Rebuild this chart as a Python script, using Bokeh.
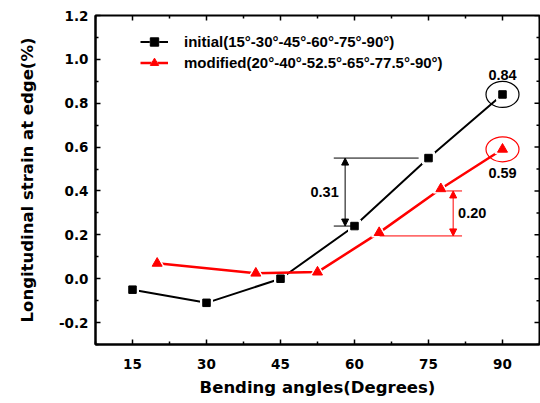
import math
from bokeh.plotting import figure
from bokeh.models import Range1d, FixedTicker, Legend, LegendItem, Arrow, NormalHead, Label
from bokeh.embed import file_html
from bokeh.resources import INLINE

# ---- data ----
angles_initial = [15, 30, 45, 60, 75, 90]
strain_initial = [-0.05, -0.11, 0.0, 0.24, 0.55, 0.84]
angles_modified = [20, 40, 52.5, 65, 77.5, 90]
strain_modified = [0.07, 0.025, 0.03, 0.21, 0.41, 0.59]

label_initial = "initial(15°-30°-45°-60°-75°-90°)"
label_modified = "modified(20°-40°-52.5°-65°-77.5°-90°)"

x_ticks = [15, 30, 45, 60, 75, 90]
x_minor = [7.5, 22.5, 37.5, 52.5, 67.5, 82.5, 97.5]
y_ticks = [-0.2, 0.0, 0.2, 0.4, 0.6, 0.8, 1.0, 1.2]
y_tick_labels = ["-0.2", "0.0", "0.2", "0.4", "0.6", "0.8", "1.0", "1.2"]
y_minor = [-0.3, -0.1, 0.1, 0.3, 0.5, 0.7, 0.9, 1.1]

X_MIN, X_MAX = 7.5, 97.5
Y_MIN, Y_MAX = -0.3, 1.2

TICK_FONT = "DejaVu Sans"
TEXT_FONT = "Liberation Sans"
RED = "#ff0000"

p = figure(width=540, height=403,
           x_range=Range1d(X_MIN, X_MAX), y_range=Range1d(Y_MIN, Y_MAX),
           output_backend="svg", toolbar_location=None,
           min_border_left=95, min_border_right=1, min_border_top=15, min_border_bottom=59)
p.xgrid.visible = False
p.ygrid.visible = False
p.outline_line_color = "black"
p.outline_line_width = 2
p.background_fill_color = "white"
p.border_fill_color = "white"

xt = FixedTicker(ticks=x_ticks, minor_ticks=x_minor)
yt = FixedTicker(ticks=y_ticks, minor_ticks=y_minor)

for ax in (p.xaxis[0], p.yaxis[0]):
    ax.axis_line_width = 2
    ax.axis_line_color = "black"
    ax.major_tick_in = 5
    ax.major_tick_out = 0
    ax.minor_tick_in = 3
    ax.minor_tick_out = 0
    ax.major_tick_line_width = 1.5
    ax.minor_tick_line_width = 1.5
    ax.major_tick_line_color = "black"
    ax.minor_tick_line_color = "black"
    ax.major_label_text_font = TICK_FONT
    ax.major_label_text_font_style = "bold"
    ax.major_label_text_font_size = "13.5px"
    ax.major_label_text_color = "black"
    ax.axis_label_text_font = TICK_FONT
    ax.axis_label_text_font_style = "bold"
    ax.axis_label_text_font_size = "16.5px"
    ax.axis_label_text_color = "black"

p.xaxis.ticker = xt
p.yaxis.ticker = yt
p.yaxis.major_label_overrides = {v: s for v, s in zip(y_ticks, y_tick_labels)}
p.xaxis.axis_label = "Bending angles(Degrees)"
p.yaxis.axis_label = "Longitudinal strain at edge(%)"
p.xaxis.major_label_standoff = 14
p.xaxis.axis_label_standoff = 6
p.yaxis.major_label_standoff = 7
p.yaxis.axis_label_standoff = 19

# mirrored ticks on the top and right edges (half of each dash is clipped by the frame)
p.scatter(x_ticks, [Y_MAX] * len(x_ticks), marker="dash", angle=math.pi / 2, size=10,
          line_color="black", line_width=1.5)
p.scatter(x_minor, [Y_MAX] * len(x_minor), marker="dash", angle=math.pi / 2, size=6,
          line_color="black", line_width=1.5)
p.scatter([X_MAX] * len(y_ticks), y_ticks, marker="dash", size=10,
          line_color="black", line_width=1.5)
p.scatter([X_MAX] * len(y_minor), y_minor, marker="dash", size=6,
          line_color="black", line_width=1.5)

# ---- series ----
l1 = p.line(angles_initial, strain_initial, line_color="black", line_width=2)
h1 = p.scatter(angles_initial, strain_initial, marker="square", size=12,
               fill_color="white", line_color="white")
m1 = p.scatter(angles_initial, strain_initial, marker="square", size=7.5,
               fill_color="black", line_color="black")

l2 = p.line(angles_modified, strain_modified, line_color=RED, line_width=2.5)
h2 = p.scatter(angles_modified, strain_modified, marker="triangle", size=15,
               fill_color="white", line_color="white")
m2 = p.scatter(angles_modified, strain_modified, marker="triangle", size=10,
               fill_color=RED, line_color=RED)

# ---- annotations ----
# 0.31 difference (initial 60 -> 75)
y_lo, y_hi = strain_initial[3], strain_initial[4]
p.segment(x0=[55.8, 55.8], y0=[y_hi, y_lo], x1=[73.0, 60.0], y1=[y_hi, y_lo],
          line_color="black", line_width=1)
p.add_layout(Arrow(x_start=58.1, y_start=y_lo, x_end=58.1, y_end=y_hi, line_width=1,
                   line_color="black",
                   start=NormalHead(size=7, fill_color="black", line_color="black", line_width=1),
                   end=NormalHead(size=7, fill_color="black", line_color="black", line_width=1)))
p.add_layout(Label(x=56.8, y=(y_lo + y_hi) / 2, text="%.2f" % (y_hi - y_lo),
                   text_font=TEXT_FONT, text_font_style="bold", text_font_size="14.5px",
                   text_align="right", text_baseline="middle", text_color="black"))

# 0.20 difference (modified 65 -> 77.5)
r_lo, r_hi = strain_modified[3] - 0.015, strain_modified[4] - 0.01
p.segment(x0=[65.1, 78.6], y0=[r_lo, r_hi], x1=[81.8, 81.8], y1=[r_lo, r_hi],
          line_color=RED, line_width=1)
p.add_layout(Arrow(x_start=80.0, y_start=r_lo, x_end=80.0, y_end=r_hi, line_width=1,
                   line_color=RED,
                   start=NormalHead(size=7, fill_color=RED, line_color=RED, line_width=1),
                   end=NormalHead(size=7, fill_color=RED, line_color=RED, line_width=1)))
p.add_layout(Label(x=81.0, y=(r_lo + r_hi) / 2,
                   text="%.2f" % (strain_modified[4] - strain_modified[3]),
                   text_font=TEXT_FONT, text_font_style="bold", text_font_size="14.5px",
                   text_align="left", text_baseline="middle", text_color="black"))

# end-point circles and labels
p.ellipse(x=[angles_initial[-1]], y=[strain_initial[-1]], width=33, height=26,
          width_units="screen", height_units="screen",
          fill_color=None, line_color="black", line_width=1.2)
p.ellipse(x=[angles_modified[-1]], y=[strain_modified[-1]], width=33, height=25,
          width_units="screen", height_units="screen",
          fill_color=None, line_color=RED, line_width=1.2)
p.add_layout(Label(x=angles_initial[-1], y=strain_initial[-1], y_offset=19,
                   text="%.2f" % strain_initial[-1],
                   text_font=TEXT_FONT, text_font_style="bold", text_font_size="14.5px",
                   text_align="center", text_baseline="middle", text_color="black"))
p.add_layout(Label(x=angles_modified[-1], y=strain_modified[-1], y_offset=-24,
                   text="%.2f" % strain_modified[-1],
                   text_font=TEXT_FONT, text_font_style="bold", text_font_size="14.5px",
                   text_align="center", text_baseline="middle", text_color="black"))

# ---- legend ----
legend = Legend(items=[LegendItem(label=label_initial, renderers=[l1, h1, m1]),
                       LegendItem(label=label_modified, renderers=[l2, h2, m2])],
                location=(45, 271), orientation="vertical",
                glyph_width=28, glyph_height=21, label_height=21, spacing=0,
                padding=0, margin=0, label_standoff=16,
                border_line_color=None, background_fill_alpha=0,
                label_text_font=TEXT_FONT, label_text_font_style="bold",
                label_text_font_size="15px", label_text_color="black")
p.add_layout(legend, "center")

open("out.html", "w").write(file_html(p, INLINE))
